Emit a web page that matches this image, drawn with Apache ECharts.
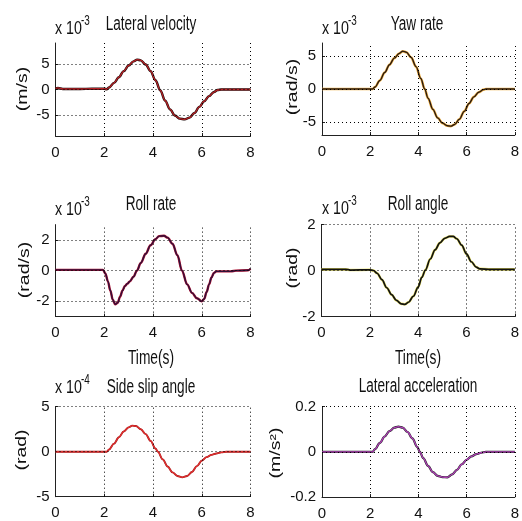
<!DOCTYPE html>
<html>
<head>
<meta charset="utf-8">
<script src="https://cdn.jsdelivr.net/npm/echarts@6/dist/echarts.min.js"></script>
<style>
  html, body { margin: 0; background: #fff; }
  #main { width: 522px; height: 521px; }
</style>
</head>
<body>
<div id="main"></div>
<script>
// ---- data ----
const xTicks = [0, 2, 4, 6, 8];
const titles = ['Lateral velocity', 'Yaw rate', 'Roll rate', 'Roll angle', 'Side slip angle', 'Lateral acceleration'];
const yNames = ['(m/s)', '(rad/s)', '(rad/s)', '(rad)', '(rad)', '(m/s\u00b2)'];
const exponents = ['-3', '-3', '-3', '-3', '-4', null];
const xNames = [null, null, 'Time(s)', 'Time(s)', null, null];
const yTicks = [[-5, 0, 5], [-5, 0, 5], [-2, 0, 2], [-2, 0, 2], [-5, 0, 5], [-0.2, 0, 0.2]];
const yRanges = [[-9.1, 9.1], [-7, 7], [-3, 3], [-2, 2], [-5, 5], [-0.2, 0.2]];

// values in units of the x 10^n factor, [time, value]
const latVel = [[0,0.2],[0.1,0.3],[0.3,0.1],[1,0.1],[1.5,0.15],[2.0,0.15],[2.1,0.05],[2.2,0.4],[2.4,1.3],[2.6,2.4],[2.8,3.6],[3.0,4.7],[3.2,5.5],[3.35,5.85],[3.5,5.7],[3.7,4.9],[3.9,3.6],[4.1,1.8],[4.3,-0.2],[4.5,-2.2],[4.7,-3.9],[4.9,-5.1],[5.1,-5.7],[5.3,-5.85],[5.5,-5.5],[5.7,-4.6],[5.9,-3.4],[6.1,-2.3],[6.3,-1.3],[6.5,-0.5],[6.65,-0.1],[6.8,0],[8,0]];
const yawRate = [[0,0],[2.1,0],[2.2,0.3],[2.4,1.3],[2.6,2.5],[2.8,3.7],[3.0,4.7],[3.2,5.4],[3.35,5.75],[3.5,5.6],[3.7,4.8],[3.9,3.4],[4.1,1.6],[4.26,0],[4.4,-1.4],[4.6,-3.1],[4.8,-4.4],[5.0,-5.2],[5.2,-5.6],[5.35,-5.65],[5.5,-5.4],[5.7,-4.6],[5.9,-3.4],[6.1,-2.2],[6.3,-1.2],[6.5,-0.5],[6.7,-0.1],[6.8,0],[8,0]];
const rollRate = [[0,0.05],[1.95,0.05],[2.05,-0.2],[2.15,-0.7],[2.25,-1.3],[2.35,-1.9],[2.45,-2.2],[2.55,-2.1],[2.65,-1.7],[2.75,-1.3],[2.85,-1.0],[2.95,-0.85],[3.05,-0.7],[3.2,-0.4],[3.34,0],[3.5,0.5],[3.7,1.1],[3.9,1.65],[4.1,2.05],[4.25,2.25],[4.45,2.27],[4.6,2.15],[4.8,1.75],[5.0,1.0],[5.19,0],[5.4,-0.9],[5.6,-1.45],[5.8,-1.8],[6.0,-2.0],[6.1,-1.85],[6.2,-1.4],[6.3,-0.9],[6.4,-0.45],[6.5,-0.15],[6.6,-0.05],[7.2,-0.05],[7.4,0],[7.9,0.02],[8,0.12]];
const rollAngle = [[0,0.05],[1.0,0.05],[1.2,0.02],[2.0,0.03],[2.15,0.0],[2.3,-0.12],[2.5,-0.4],[2.7,-0.75],[2.9,-1.05],[3.1,-1.3],[3.3,-1.45],[3.45,-1.47],[3.6,-1.38],[3.8,-1.12],[4.0,-0.72],[4.15,-0.3],[4.3,0.02],[4.5,0.5],[4.7,0.9],[4.9,1.2],[5.1,1.4],[5.3,1.48],[5.45,1.48],[5.6,1.38],[5.8,1.1],[6.0,0.72],[6.2,0.38],[6.4,0.15],[6.55,0.07],[7,0.05],[8,0.05]];
const sideSlip = [[0,0],[2.1,0],[2.2,0.25],[2.4,0.9],[2.6,1.6],[2.8,2.25],[3.0,2.7],[3.15,2.9],[3.3,2.85],[3.5,2.5],[3.7,1.95],[3.9,1.2],[4.1,0.35],[4.2,0],[4.4,-0.85],[4.6,-1.65],[4.8,-2.3],[5.0,-2.7],[5.2,-2.85],[5.4,-2.7],[5.6,-2.25],[5.8,-1.6],[6.0,-1.0],[6.2,-0.6],[6.4,-0.35],[6.6,-0.2],[6.8,-0.08],[7.0,0],[8,0]];
const latAcc = [[0,0],[2.1,0],[2.2,0.012],[2.4,0.04],[2.6,0.068],[2.8,0.092],[3.0,0.107],[3.17,0.112],[3.35,0.107],[3.55,0.088],[3.75,0.06],[3.95,0.022],[4.06,0],[4.2,-0.028],[4.4,-0.062],[4.6,-0.09],[4.8,-0.106],[5.0,-0.112],[5.2,-0.113],[5.4,-0.1],[5.6,-0.08],[5.8,-0.055],[6.0,-0.035],[6.2,-0.02],[6.4,-0.01],[6.6,-0.004],[6.8,0],[8,0]];
const curves = [latVel, yawRate, rollRate, rollAngle, sideSlip, latAcc];

// ---- layout & styles ----
const FONT = '"Liberation Sans", Arial, sans-serif';
const grids = [
    {left: 55.5, top: 43, width: 195, height: 93},
    {left: 322, top: 43, width: 195, height: 92},
    {left: 55.5, top: 224.6, width: 195, height: 92},
    {left: 321.5, top: 224.5, width: 196, height: 92},
    {left: 55.5, top: 406.7, width: 195, height: 90},
    {left: 322, top: 406.7, width: 195, height: 91}
];
// [under color, under width, over color, over width]
const lineStyles = [
    ['#1a0a0a', 2.4, '#b82226', 1.3],
    ['#f0b040', 2.6, '#2a1a10', 1.4],
    ['#b01030', 2.4, '#30103a', 1.4],
    ['#e8e060', 2.6, '#111111', 1.7],
    ['#a01818', 1.9, '#e03030', 1.2],
    ['#222222', 2.2, '#b040b8', 1.3]
];
const titlePos = [[151, 24], [417, 24], [151, 204], [418, 204], [151, 387], [418, 386]];
const yNamePos = [[23, 89], [293, 87], [25, 270], [293, 268], [22, 450], [276, 453]];
const expPos = [[55, 29], [322, 29], [55, 210], [322, 209], [55, 388], null];
const xNamePos = [null, null, [151, 358], [418, 358], null, null];

const option = {
    animation: false,
    grid: grids,
    xAxis: grids.map((g, i) => ({
        type: 'value', gridIndex: i, min: 0, max: 8,
        axisLine: {show: true, onZero: false, lineStyle: {color: '#222', width: 1}},
        axisTick: {show: true, inside: true, length: 3, customValues: xTicks, lineStyle: {color: '#222'}},
        axisLabel: {customValues: xTicks, margin: 9, color: '#111', fontSize: 15, fontFamily: FONT, hideOverlap: false},
        splitLine: {show: false}
    })),
    yAxis: grids.map((g, i) => ({
        type: 'value', gridIndex: i, min: yRanges[i][0], max: yRanges[i][1],
        axisLine: {show: true, onZero: false, lineStyle: {color: '#222', width: 1}},
        axisTick: {show: true, inside: true, length: 3, customValues: yTicks[i], lineStyle: {color: '#222'}},
        axisLabel: {customValues: yTicks[i], margin: 6, color: '#111', fontSize: 15, fontFamily: FONT, hideOverlap: false},
        splitLine: {show: false}
    })),
    series: [],
    graphic: []
};

curves.forEach((data, i) => {
    const gridLines = xTicks.filter(v => v > 0).map(v => ({xAxis: v}))
        .concat(yTicks[i].filter(v => v > yRanges[i][0]).map(v => ({yAxis: v})));
    option.series.push({
        type: 'line', xAxisIndex: i, yAxisIndex: i, data: [], z: 1,
        markLine: {
            silent: true, symbol: 'none', label: {show: false},
            lineStyle: {type: [1, 3], color: '#000', width: 1},
            data: gridLines
        }
    });
    const st = lineStyles[i];
    option.series.push({
        type: 'line', xAxisIndex: i, yAxisIndex: i, data: data, z: 2,
        showSymbol: false, smooth: 0.35, smoothMonotone: 'x',
        lineStyle: {color: st[0], width: st[1]}
    });
    option.series.push({
        type: 'line', xAxisIndex: i, yAxisIndex: i, data: data, z: 3,
        showSymbol: false, smooth: 0.35, smoothMonotone: 'x',
        lineStyle: {color: st[2], width: st[3]}
    });

    // titles and labels (narrow, tall text like the original)
    option.graphic.push({
        type: 'text', x: titlePos[i][0], y: titlePos[i][1], scaleX: 0.85, scaleY: 1.25,
        style: {text: titles[i], font: '16px ' + FONT, fill: '#111', align: 'center', verticalAlign: 'middle'}
    });
    option.graphic.push({
        type: 'text', x: yNamePos[i][0], y: yNamePos[i][1], rotation: Math.PI / 2, scaleX: 1.3,
        style: {text: yNames[i], font: '15px ' + FONT, fill: '#111', align: 'center', verticalAlign: 'middle'}
    });
    if (exponents[i]) {
        option.graphic.push({
            type: 'text', x: expPos[i][0], y: expPos[i][1], scaleX: 0.95, scaleY: 1.25,
            style: {text: 'x 10', font: '15px ' + FONT, fill: '#111', align: 'left', verticalAlign: 'middle'}
        });
        option.graphic.push({
            type: 'text', x: expPos[i][0] + 26, y: expPos[i][1] - 8, scaleX: 0.9, scaleY: 1.25,
            style: {text: exponents[i], font: '11px ' + FONT, fill: '#111', align: 'left', verticalAlign: 'middle'}
        });
    }
    if (xNames[i]) {
        option.graphic.push({
            type: 'text', x: xNamePos[i][0], y: xNamePos[i][1], scaleX: 0.86, scaleY: 1.25,
            style: {text: xNames[i], font: '16px ' + FONT, fill: '#111', align: 'center', verticalAlign: 'middle'}
        });
    }
});

const chart = echarts.init(document.getElementById('main'));
chart.setOption(option);
</script>
</body>
</html>
